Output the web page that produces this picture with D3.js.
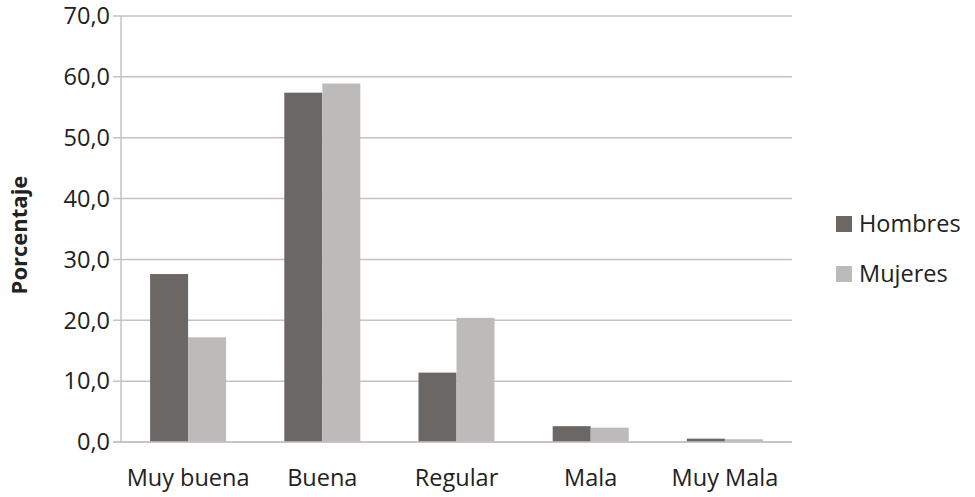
<!DOCTYPE html>
<html><head><meta charset="utf-8">
<script src="https://cdn.jsdelivr.net/npm/d3@7"></script>
<style>body{margin:0;background:#fff}svg{display:block}text{font-family:"Open Sans",sans-serif;fill:#222}</style>
</head><body>
<svg id="c" width="975" height="497"></svg>
<script>
const categories = ["Muy buena","Buena","Regular","Mala","Muy Mala"];
const series = ["Hombres","Mujeres"];
const hombres = [27.6, 57.4, 11.4, 2.6, 0.55];
const mujeres = [17.2, 58.9, 20.4, 2.35, 0.45];
const yTicks = [0,10,20,30,40,50,60,70];
const colors = ["#6b6765","#bcbbba"];

const svg = d3.select("#c");
const m = {l:121, r:792, t:16, b:442};
const x = d3.scaleBand().domain(categories).range([m.l, m.r]);
const xs = d3.scaleBand().domain(series).range([0, 76]);
const y = d3.scaleLinear().domain([0,70]).range([m.b, m.t]);
const fmt = v => d3.format(".1f")(v).replace(".", ",");
const FS = 23.5;

svg.append("g").selectAll("line").data(yTicks).join("line")
  .attr("x1", m.l-8).attr("x2", m.r)
  .attr("y1", d=>y(d)).attr("y2", d=>y(d))
  .attr("stroke", "#c9c0c0").attr("stroke-width", 1.5);
svg.append("line").attr("x1", m.l).attr("x2", m.l).attr("y1", m.t).attr("y2", m.b)
  .attr("stroke", "#c9c0c0").attr("stroke-width", 1.5);

svg.append("g").selectAll("text").data(yTicks).join("text")
  .attr("x", 110).attr("y", d=>y(d)).attr("dy", "0.35em")
  .attr("text-anchor", "end").attr("font-size", FS).text(fmt);

const data = categories.map((c,i)=>({c, vals:[hombres[i], mujeres[i]]}));
const g = svg.append("g");
data.forEach(d=>{
  d.vals.forEach((v,j)=>{
    g.append("rect")
      .attr("x", x(d.c) + x.bandwidth()/2 - 38 + xs(series[j]))
      .attr("width", xs.bandwidth())
      .attr("y", y(v)).attr("height", y(0)-y(v))
      .attr("fill", colors[j]);
  });
});
svg.append("line").attr("x1", m.l-8).attr("x2", m.r).attr("y1", y(0)).attr("y2", y(0))
  .attr("stroke", "#c9c0c0").attr("stroke-width", 1.5);

svg.append("g").selectAll("text").data(categories).join("text")
  .attr("x", d=>x(d)+x.bandwidth()/2).attr("y", 486)
  .attr("text-anchor", "middle").attr("font-size", FS).text(d=>d);

svg.append("text").attr("transform", "translate(19,235) rotate(-90)")
  .attr("text-anchor", "middle").attr("dy", "0.35em").attr("font-size", 22).attr("font-weight", "bold")
  .attr("fill", "#111").text("Porcentaje");

const lg = svg.append("g");
series.forEach((s,i)=>{
  const yy = 224 + i*50;
  lg.append("rect").attr("x", 836).attr("y", yy-8).attr("width", 16).attr("height", 16).attr("fill", colors[i]);
  lg.append("text").attr("x", 859).attr("y", yy).attr("dy", "0.35em").attr("font-size", FS).text(s);
});
</script>
</body></html>
